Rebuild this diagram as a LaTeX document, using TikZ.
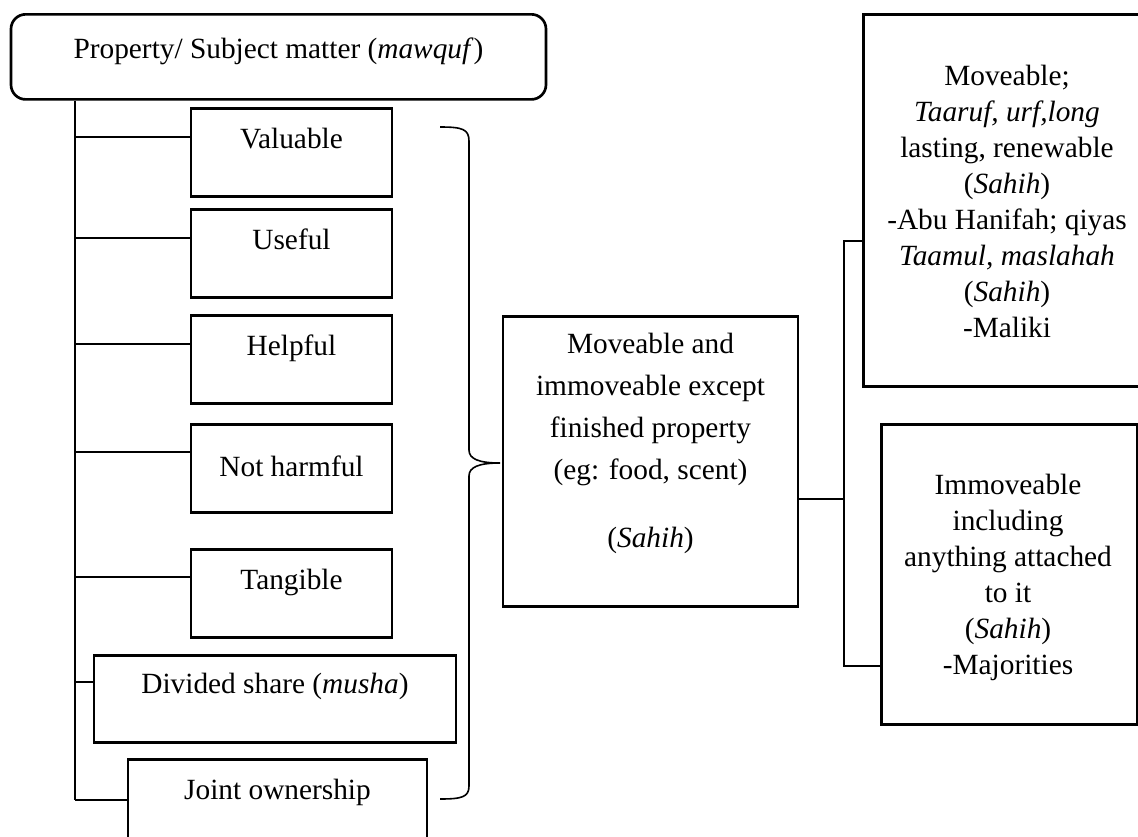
\documentclass[tikz,border=0pt]{standalone}
\usepackage{fontspec}
\setmainfont{Liberation Serif}
\usetikzlibrary{calc}
\tikzset{
  every node/.style = {font = \fontsize{22pt}{27pt}\selectfont, inner sep=0pt}
}
\tikzset{
  itembox/.style = {draw, line width=2pt, anchor=north, text height=30.4pt, text depth=35.6pt},
  bigbox/.style  = {draw, line width=2pt, anchor=north west},
  boxtext/.style = {align=center, anchor=north},
  link/.style    = {line width=1.2pt}
}

\begin{document}
\begin{tikzpicture}[x=0.75pt, y=-0.75pt]
\useasboundingbox (0,0) rectangle (1138,836);
\clip (0,0) rectangle (1138,836);

% Subject matter
\node[itembox, rounded corners=11pt, minimum width=401.25pt,
  text height=33.4pt, text depth=30.4pt] (prop) at (278.5,13)
  {Property/ Subject matter (\textit{mawquf})};

% Conditions, left column
\node[itembox, minimum width=150.75pt] (val) at (291.5,107) {Valuable};
\node[itembox, minimum width=150.75pt] (use) at (291.5,208) {Useful};
\node[itembox, minimum width=150.75pt] (help) at (291.5,314) {Helpful};
\node[itembox, minimum width=150.75pt,
  text height=39.4pt, text depth=26.6pt] (harm) at (291.5,423) {Not harmful};
\node[itembox, minimum width=150.75pt] (tang) at (291.5,548) {Tangible};
\node[itembox, minimum width=271.5pt,
  text height=28.9pt, text depth=36.4pt] (divs) at (275,654) {Divided share (\textit{musha})};
\node[itembox, minimum width=224.25pt] (joint) at (277.5,758) {Joint ownership};

% Left trunk and branches
\coordinate (ltop) at (prop.south -| 75,0);
\foreach \n/\d in {val/22.5, use/22.5, help/22.5, harm/21.75, tang/21.75, divs/21, joint/31.5}{
  \coordinate (\n-in) at ([yshift=-\d pt]\n.north west);
  \draw[link] (ltop |- \n-in) -- (\n-in);
}
\draw[link] (ltop) -- (ltop |- joint-in);

% The brace
\draw[link] (440,127) .. controls (462,127) and (469,129) .. (469,141)
  -- (469,450) .. controls (469,459) and (479,463) .. (500,463)
  .. controls (479,463) and (469,467) .. (469,476)
  -- (469,786) .. controls (469,797) and (462,799) .. (440,799);

% Result box
\node[bigbox, anchor=north, minimum width=221.25pt, minimum height=217.5pt] (mid) at (650.5,315) {};
\node[boxtext, font=\fontsize{22pt}{31.5pt}\selectfont] (midtext) at (650.5,333)
  {Moveable and\\ immoveable except\\ finished property\\ (eg: food, scent)\\[19.5pt]
   (\textit{Sahih})};

% Opinions, right column
\node[bigbox, minimum width=217.5pt, minimum height=279pt] (mov) at (862,13) {};
\node[boxtext] (movtext) at (1007,65)
  {Moveable;\\ \textit{Taaruf, urf,long}\\ lasting, renewable\\ (\textit{Sahih})\\
   -Abu Hanifah; qiyas\\ \textit{Taamul, maslahah}\\ (\textit{Sahih})\\ -Maliki};
\node[bigbox, minimum width=192pt, minimum height=225pt] (imm) at (880,423) {};
\node[boxtext] (immtext) at (1008,474)
  {Immoveable\\ including\\ anything attached\\ to it\\ (\textit{Sahih})\\ -Majorities};

% Right trunk
\coordinate (rtrunk) at (844,499);
\coordinate (mov-in) at ([yshift=-171pt]mov.north west);
\coordinate (imm-in) at ([yshift=-182.25pt]imm.north west);
\draw[link] (mid.east |- rtrunk) -- (rtrunk);
\draw[link] (mov-in) -| (rtrunk) |- (imm-in);
\end{tikzpicture}
\end{document}
